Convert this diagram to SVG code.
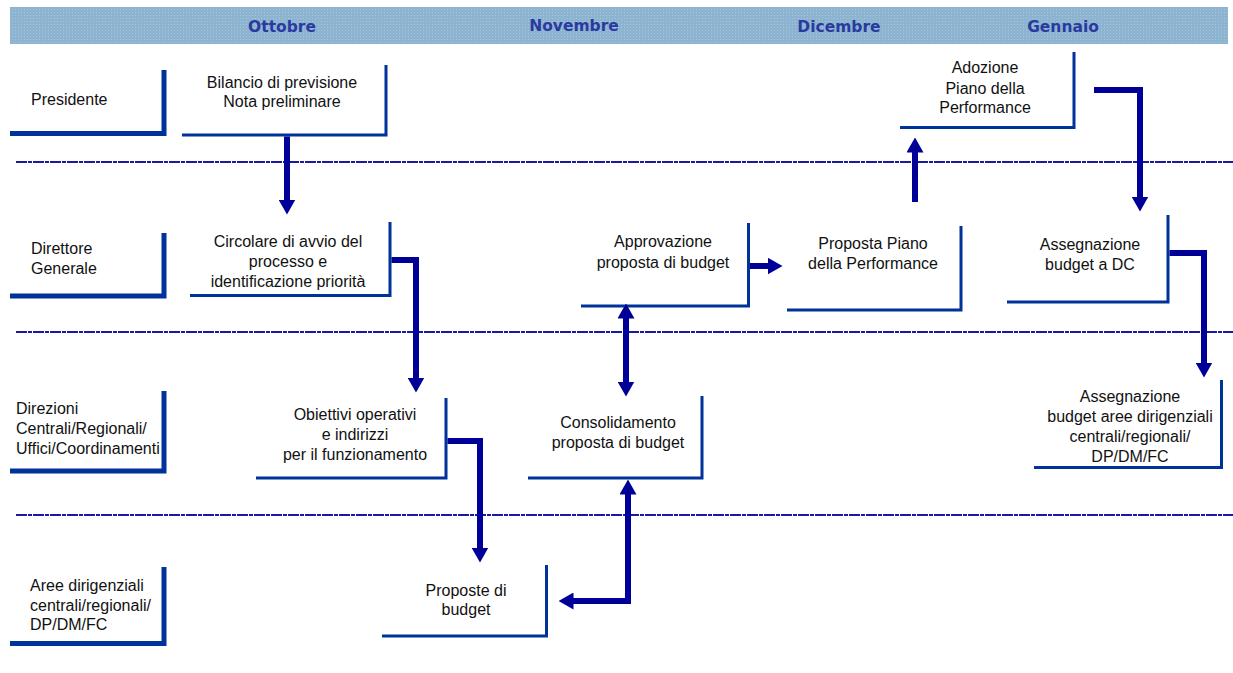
<svg xmlns="http://www.w3.org/2000/svg" width="1233" height="673" viewBox="0 0 1233 673">
<style>
.hdr{font-family:"DejaVu Sans",Verdana,sans-serif;font-weight:bold;font-size:15.5px;fill:#2a3a9f;text-anchor:middle}
.t{font-family:"Liberation Sans",Arial,sans-serif;font-size:16px;fill:#111}
.c{text-anchor:middle}
.lab{fill:none;stroke:#003399;stroke-width:5}
.box{fill:none;stroke:#003399;stroke-width:3}
.sep{fill:none;stroke:#1a1aa0;stroke-width:2;stroke-dasharray:11 1 4 1}
.arr{fill:none;stroke:#000099;stroke-width:6;stroke-linejoin:miter;stroke-linecap:butt;marker-end:url(#ah)}
.dbl{marker-start:url(#ah)}
</style>
<defs>
<pattern id="dots" width="3" height="3" patternUnits="userSpaceOnUse">
<rect width="3" height="3" fill="#8cb3d0"/>
<rect width="1" height="1" fill="#a6c4da"/>
</pattern>
<marker id="ah" viewBox="0 0 15 17" markerUnits="userSpaceOnUse" markerWidth="15" markerHeight="17" refX="0.5" refY="8.5" orient="auto-start-reverse">
<path d="M0,0 L15,8.5 L0,17 z" fill="#000099"/>
</marker>
</defs>
<rect width="1233" height="673" fill="#ffffff"/>
<g id="header">
<rect x="10" y="7" width="1218" height="37" fill="url(#dots)"/>
<text class="hdr" x="282" y="32">Ottobre</text>
<text class="hdr" x="574" y="31">Novembre</text>
<text class="hdr" x="839" y="32">Dicembre</text>
<text class="hdr" x="1063" y="32">Gennaio</text>
</g>
<g id="separators">
<line class="sep" x1="16" y1="162" x2="1233" y2="162"/>
<line class="sep" x1="16" y1="332" x2="1233" y2="332"/>
<line class="sep" x1="16" y1="515" x2="1233" y2="515"/>
</g>
<g id="lane-presidente">
<path class="lab" d="M10,133.5 H164 V70"/>
<text class="t" x="31" y="105">Presidente</text>
</g>
<g id="lane-direttore">
<path class="lab" d="M10,296 H164 V233"/>
<text class="t" x="31" y="254">Direttore</text>
<text class="t" x="31" y="274">Generale</text>
</g>
<g id="lane-direzioni">
<path class="lab" d="M10,471 H164 V391"/>
<text class="t" x="16" y="414">Direzioni</text>
<text class="t" x="16" y="434">Centrali/Regionali/</text>
<text class="t" x="16" y="454">Uffici/Coordinamenti</text>
</g>
<g id="lane-aree">
<path class="lab" d="M10,643.5 H164 V567"/>
<text class="t" x="30" y="591">Aree dirigenziali</text>
<text class="t" x="30" y="611">centrali/regionali/</text>
<text class="t" x="30" y="630">DP/DM/FC</text>
</g>
<g id="n-bilancio">
<path class="box" d="M182,135 H386 V65"/>
<text class="t c" x="282" y="88">Bilancio di previsione</text>
<text class="t c" x="282" y="107">Nota preliminare</text>
</g>
<g id="n-circolare">
<path class="box" d="M190,295.5 H390 V222"/>
<text class="t c" x="288" y="247">Circolare di avvio del</text>
<text class="t c" x="288" y="267">processo e</text>
<text class="t c" x="288" y="287">identificazione priorità</text>
</g>
<g id="n-obiettivi">
<path class="box" d="M256,478 H446 V398"/>
<text class="t c" x="355" y="420">Obiettivi operativi</text>
<text class="t c" x="355" y="440">e indirizzi</text>
<text class="t c" x="355" y="460">per il funzionamento</text>
</g>
<g id="n-proposte">
<path class="box" d="M382,636 H546.5 V565"/>
<text class="t c" x="466" y="596">Proposte di</text>
<text class="t c" x="466" y="615">budget</text>
</g>
<g id="n-consolidamento">
<path class="box" d="M528,478 H702 V396"/>
<text class="t c" x="618" y="428">Consolidamento</text>
<text class="t c" x="618" y="448">proposta di budget</text>
</g>
<g id="n-approvazione">
<path class="box" d="M581,306 H748.5 V223"/>
<text class="t c" x="663" y="247">Approvazione</text>
<text class="t c" x="663" y="268">proposta di budget</text>
</g>
<g id="n-proposta-piano">
<path class="box" d="M787,310 H961 V226"/>
<text class="t c" x="873" y="249">Proposta Piano</text>
<text class="t c" x="873" y="269">della Performance</text>
</g>
<g id="n-adozione">
<path class="box" d="M900,127.5 H1074 V52"/>
<text class="t c" x="985" y="73">Adozione</text>
<text class="t c" x="985" y="94">Piano della</text>
<text class="t c" x="985" y="113">Performance</text>
</g>
<g id="n-assegnazione-dc">
<path class="box" d="M1007,302 H1168 V215"/>
<text class="t c" x="1090" y="250">Assegnazione</text>
<text class="t c" x="1090" y="270">budget a DC</text>
</g>
<g id="n-assegnazione-aree">
<path class="box" d="M1034,467.5 H1221.5 V380"/>
<text class="t c" x="1130" y="402">Assegnazione</text>
<text class="t c" x="1130" y="422">budget aree dirigenziali</text>
<text class="t c" x="1130" y="442">centrali/regionali/</text>
<text class="t c" x="1130" y="462">DP/DM/FC</text>
</g>
<g id="connectors">
<path class="arr" d="M287,136.5 V200"/>
<path class="arr" d="M391.5,260 H416 V378"/>
<path class="arr" d="M447.5,441 H480 V548"/>
<path class="arr dbl" d="M573,601 H628 V494"/>
<path class="arr dbl" d="M626,318 V382"/>
<path class="arr" d="M750,266 H768"/>
<path class="arr" d="M915,202 V152"/>
<path class="arr" d="M1094,90 H1140 V197"/>
<path class="arr" d="M1169.5,253 H1204 V363"/>
</g>
</svg>
